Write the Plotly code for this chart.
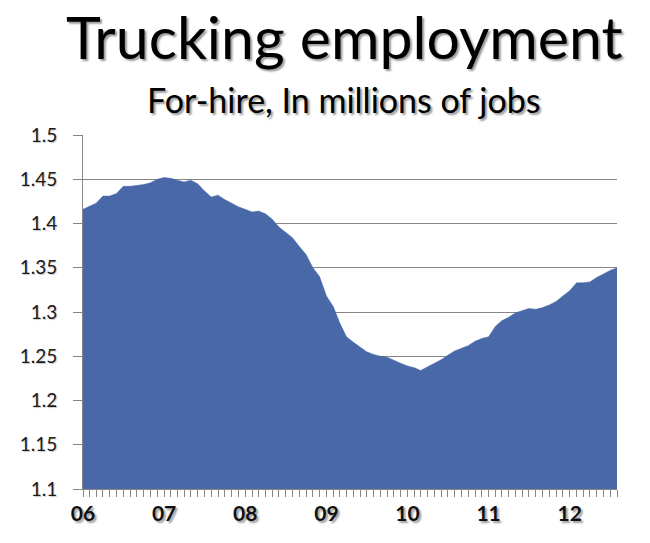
import plotly.graph_objects as go

# monthly, Jan 2006 .. Aug 2012
months = [f"{y}-{m:02d}-01" for y in range(2006, 2013) for m in range(1, 13)][:80]
jobs = [
    1.416, 1.420, 1.423, 1.431, 1.431, 1.434, 1.442, 1.442, 1.443, 1.444, 1.446, 1.450,
    1.452, 1.451, 1.449, 1.447, 1.449, 1.445, 1.437, 1.430, 1.432, 1.427, 1.423, 1.419,
    1.416, 1.413, 1.414, 1.411, 1.405, 1.396, 1.390, 1.384, 1.374, 1.365, 1.350, 1.340,
    1.318, 1.306, 1.288, 1.272, 1.266, 1.260, 1.255, 1.252, 1.250, 1.249, 1.245, 1.242,
    1.239, 1.237, 1.234, 1.238, 1.242, 1.246, 1.251, 1.256, 1.259, 1.262, 1.267, 1.270,
    1.272, 1.284, 1.290, 1.294, 1.299, 1.302, 1.304, 1.303, 1.305, 1.308, 1.312, 1.318,
    1.324, 1.333, 1.333, 1.334, 1.339, 1.343, 1.347, 1.350,
]
year_ticks = ["2006-01-01", "2007-01-01", "2008-01-01", "2009-01-01",
              "2010-01-01", "2011-01-01", "2012-01-01"]
year_labels = ["06", "07", "08", "09", "10", "11", "12"]
y_ticks = [1.1, 1.15, 1.2, 1.25, 1.3, 1.35, 1.4, 1.45, 1.5]
y_labels = ["1.1", "1.15", "1.2", "1.25", "1.3", "1.35", "1.4", "1.45", "1.5"]

BLUE = "#4868a8"
GRID = "#868686"
SHADOW = "2px 2px 2px #9a9a9a"

fig = go.Figure()
fig.add_trace(go.Scatter(
    x=months, y=jobs,
    mode="lines",
    line=dict(color=BLUE, width=0.5),
    fill="tozeroy",
    fillcolor=BLUE,
    showlegend=False,
))

# page has an 8px body margin, so margins are a bit smaller than the target
fig.update_layout(
    width=650, height=543,
    margin=dict(l=70, r=41, t=127, b=62),
    paper_bgcolor="white",
    plot_bgcolor="white",
    font=dict(family="Lato", color="#222222"),
    xaxis=dict(
        range=["2006-01-01", "2012-08-01"],
        tickvals=year_ticks, ticktext=year_labels,
        ticks="", showgrid=False,
        showline=True, linecolor=GRID, linewidth=1,
        ticklabelstandoff=6,
        tickfont=dict(size=21, color="#111111", weight="bold", shadow=SHADOW),
        minor=dict(dtick="M1", tick0="2006-01-01", ticks="outside",
                   ticklen=7, tickcolor=GRID, showgrid=False),
    ),
    yaxis=dict(
        range=[1.1, 1.5],
        tickvals=y_ticks, ticktext=y_labels,
        ticks="outside", ticklen=9, tickcolor=GRID,
        ticklabelstandoff=12,
        showgrid=True, gridcolor=GRID, gridwidth=1,
        showline=True, linecolor=GRID, linewidth=1,
        tickfont=dict(size=19, color="#1a1a1a", shadow="1px 1px 1px #c8c8c8"),
        zeroline=False,
    ),
    annotations=[
        dict(text="Trucking employment", xref="paper", yref="paper",
             x=0.5, y=1.0, yanchor="middle", xshift=-6, yshift=99,
             showarrow=False,
             font=dict(size=59, color="black", shadow=SHADOW)),
        dict(text="For-hire, In millions of jobs", xref="paper", yref="paper",
             x=0.5, y=1.0, yanchor="middle", xshift=-6, yshift=36,
             showarrow=False,
             font=dict(size=34, color="black", shadow=SHADOW)),
    ],
)

fig.write_html("out.html")
